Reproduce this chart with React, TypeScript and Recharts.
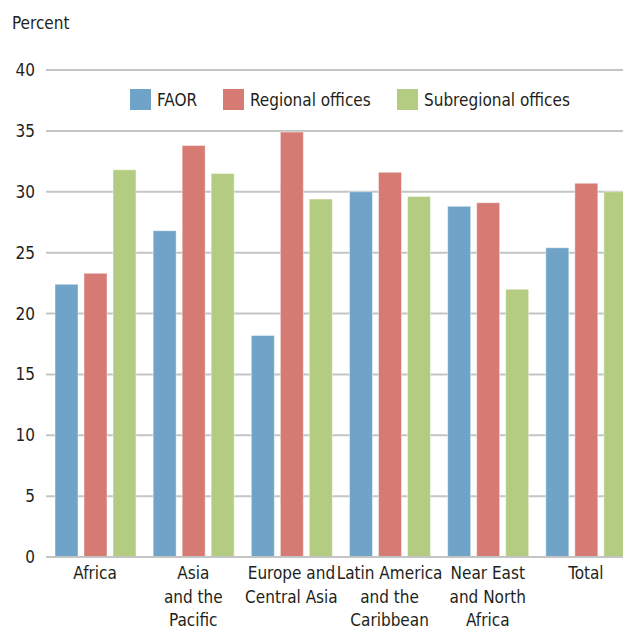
import React from 'react';
import { BarChart, Bar, XAxis, YAxis, CartesianGrid } from 'recharts';

const categories = [
  'Africa',
  'Asia\nand the\nPacific',
  'Europe and\nCentral Asia',
  'Latin America\nand the\nCaribbean',
  'Near East\nand North\nAfrica',
  'Total',
];
const faor = [22.4, 26.8, 18.2, 30.0, 28.8, 25.4];
const regionalOffices = [23.3, 33.8, 34.9, 31.6, 29.1, 30.7];
const subregionalOffices = [31.8, 31.5, 29.4, 29.6, 22.0, 30.0];
const yTicks = [0, 5, 10, 15, 20, 25, 30, 35, 40];

const seriesNames = ['FAOR', 'Regional offices', 'Subregional offices'];
const seriesColors = ['#6fa3c8', '#d57b73', '#b4cc82'];
// left edge of each legend swatch
const legendX = [130, 223, 397];

const FONT = '"DejaVu Sans Condensed", "DejaVu Sans", sans-serif';
const TEXT = '#231f20';
const FS = 17;

const data = categories.map((c, i) => ({
  name: c,
  faor: faor[i],
  regional: regionalOffices[i],
  subregional: subregionalOffices[i],
}));

const CategoryTick = ({ x, y, payload }: any) => {
  const lines = String(payload.value).split('\n');
  return (
    <text x={x} y={y} textAnchor="middle" fill={TEXT} fontSize={FS} fontFamily={FONT} style={{ fontStretch: 'condensed' }}>
      {lines.map((l, i) => (
        <tspan key={i} x={x} dy={i === 0 ? 14 : 23.5}>{l}</tspan>
      ))}
    </text>
  );
};

export default function App() {
  return (
    <div style={{ position: 'absolute', left: 0, top: 0, width: 623, height: 628, overflow: 'hidden', background: '#fff', fontFamily: FONT, fontStretch: 'condensed', color: TEXT }}>
      <div style={{ position: 'absolute', left: 12, top: 13, fontSize: FS }}>Percent</div>
      {seriesNames.map((n, i) => (
        <div key={n} style={{ position: 'absolute', left: legendX[i], top: 89, display: 'flex', alignItems: 'center', fontSize: FS, whiteSpace: 'nowrap', zIndex: 2 }}>
          <span style={{ width: 21, height: 21, background: seriesColors[i], marginRight: 6, display: 'inline-block' }} />
          <span>{n}</span>
        </div>
      ))}
      <BarChart
        width={640}
        height={628}
        data={data}
        margin={{ top: 70, right: 5, left: 0, bottom: 0 }}
        barSize={23}
        barGap={6}
      >
        <CartesianGrid vertical={false} stroke="#c3c5c5" strokeWidth={2} />
        <XAxis
          dataKey="name"
          height={71}
          interval={0}
          tickLine={false}
          axisLine={{ stroke: '#c3c5c5', strokeWidth: 2 }}
          tick={<CategoryTick />}
          tickMargin={2}
        />
        <YAxis
          width={46}
          domain={[0, 40]}
          ticks={yTicks}
          tickLine={false}
          axisLine={false}
          tickMargin={5}
          tick={{ fill: TEXT, fontSize: FS, fontFamily: FONT, style: { fontStretch: 'condensed' } }}
        />
        <Bar dataKey="faor" name={seriesNames[0]} fill={seriesColors[0]} stroke="#ffffff" strokeOpacity={0.45} isAnimationActive={false} />
        <Bar dataKey="regional" name={seriesNames[1]} fill={seriesColors[1]} stroke="#ffffff" strokeOpacity={0.45} isAnimationActive={false} />
        <Bar dataKey="subregional" name={seriesNames[2]} fill={seriesColors[2]} stroke="#ffffff" strokeOpacity={0.45} isAnimationActive={false} />
      </BarChart>
    </div>
  );
}
